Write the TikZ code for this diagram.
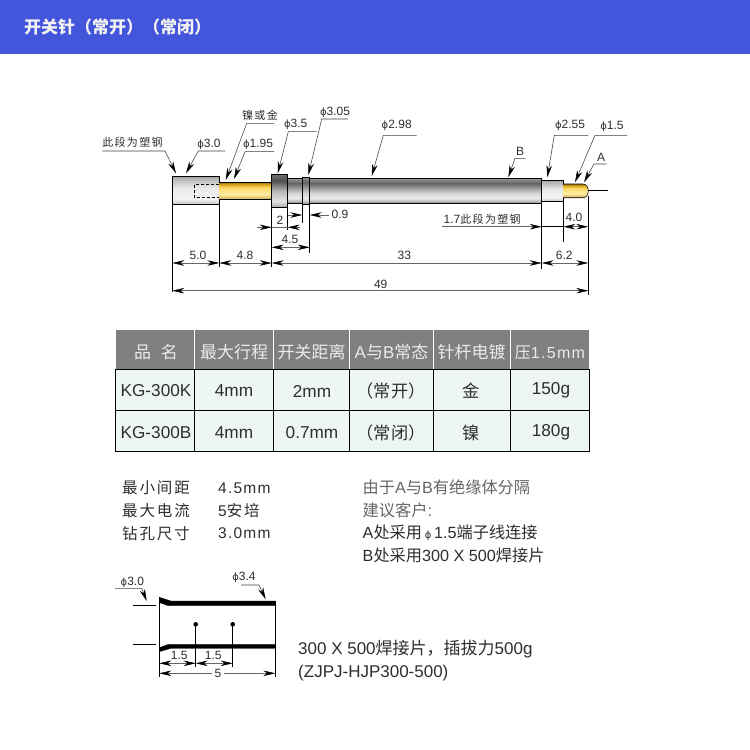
\documentclass[tikz,border=0pt]{standalone}
\usepackage{fontspec}
\setmainfont{Liberation Sans}
\newfontfamily\cjk{Noto Sans CJK SC}
\newfontfamily\cjkw[LetterSpace=12]{Noto Sans CJK SC}
\newfontfamily\latw[LetterSpace=8]{Liberation Sans}
\usetikzlibrary{arrows.meta}
\newcommand{\zh}[1]{{\cjk #1}}
\newcommand{\zw}[1]{{\cjkw #1}}
\newcommand{\fs}[1]{\fontsize{#1}{#1}\selectfont}
\newcommand{\ph}{{\fontspec{DejaVu Sans}\fontsize{10}{10}\selectfont ϕ}}
\definecolor{cA0}{HTML}{A4A4A4}\definecolor{cA1}{HTML}{C0C0C0}\definecolor{cA2}{HTML}{E8E8E8}\definecolor{cA3}{HTML}{F4F4F4}\definecolor{cA4}{HTML}{C4C4C4}
\definecolor{cB0}{HTML}{989898}\definecolor{cB1}{HTML}{626262}\definecolor{cB2}{HTML}{D8D8D8}\definecolor{cB3}{HTML}{ECECEC}\definecolor{cB4}{HTML}{909090}
\definecolor{cG0}{HTML}{9A7414}\definecolor{cG1}{HTML}{E0AA1A}\definecolor{cG2}{HTML}{FAD868}\definecolor{cG3}{HTML}{FFEEA4}\definecolor{cG4}{HTML}{CDA648}
\definecolor{cC0}{HTML}{707070}\definecolor{cC1}{HTML}{505050}\definecolor{cC2}{HTML}{B8B8B8}\definecolor{cC3}{HTML}{E4E4E4}\definecolor{cC4}{HTML}{A4A4A4}
\pgfdeclareverticalshading{steelA}{100bp}{color(0bp)=(cA4);color(25bp)=(cA4);color(35bp)=(cA3);color(55bp)=(cA2);color(67bp)=(cA1);color(75bp)=(cA0);color(100bp)=(cA0)}
\pgfdeclareverticalshading{shaftA}{100bp}{color(0bp)=(cB4);color(25bp)=(cB4);color(35bp)=(cB3);color(45bp)=(cB2);color(65bp)=(cB1);color(75bp)=(cB0);color(100bp)=(cB0)}
\pgfdeclareverticalshading{goldA}{100bp}{color(0bp)=(cG4);color(25bp)=(cG4);color(40bp)=(cG3);color(60bp)=(cG2);color(68bp)=(cG1);color(75bp)=(cG0);color(100bp)=(cG0)}
\pgfdeclareverticalshading{collarA}{100bp}{color(0bp)=(cC4);color(25bp)=(cC4);color(35bp)=(cC3);color(50bp)=(cC2);color(65bp)=(cC1);color(75bp)=(cC0);color(100bp)=(cC0)}
\definecolor{band}{HTML}{4355DB}
\definecolor{hdr}{HTML}{808080}
\definecolor{mint}{HTML}{EEF6F1}
\definecolor{ink}{HTML}{2E2E2E}
\tikzset{
 tip/.tip={Stealth[length=12pt,width=5.5pt,color=black]},
 part/.style={draw=black,line width=.7pt},
 ext/.style={draw=black,line width=.55pt},
 dim/.style={draw=black!60,line width=.5pt},
 ldr/.style={draw=black!75,line width=.55pt},
 lbl/.style={inner sep=0pt,text=ink,font=\fs{12}},
 cjlbl/.style={inner sep=0pt,text=ink,font=\fs{11}},
 thd/.style={inner sep=0pt,text=white!92!black,font=\fs{17}},
 tc/.style={inner sep=0pt,text=ink,font=\fs{17.2}},
 body/.style={inner sep=0pt,anchor=west,text=ink,font=\fs{15.5}},
 note/.style={inner sep=0pt,anchor=west,text=ink,font=\fs{16.2}},
 captxt/.style={inner sep=0pt,anchor=west,text=ink,font=\fs{17}},
 tube/.style={fill=black,draw=black,line width=.3pt},
}
\begin{document}
\begin{tikzpicture}[x=1pt,y=-1pt]
\useasboundingbox (0,0) rectangle (750,750);
\fill[white] (0,0) rectangle (750,750);
\fill[band] (0,0) rectangle (750,53.7);
\node[inner sep=0pt,anchor=west,text=white!95!black,font=\fs{17}\bfseries] (title) at (24,27) {\zh{开关针（常开）（常闭）}};

% --- pin
\path[part,shading=steelA] (172.3,176) rectangle (219.3,204.3);
\path[shading=goldA] (219.3,182.3) rectangle (271.7,199.7);
\draw[black,line width=.6pt] (219.3,182.3)--(271.7,182.3) (219.3,199.7)--(271.7,199.7);
\path[part,shading=shaftA] (287.7,178.3) rectangle (541.7,203.3);
\path[part,shading=collarA] (271.7,174.3) rectangle (287.7,207.7);
\path[part,shading=shaftA] (302.3,177) rectangle (309.7,204.3);
\path[part,shading=steelA] (541.7,180.3) rectangle (563.3,201.7);
\path[shading=goldA] (563.3,184) -- (583,184) .. controls (590,184) and (590,197.7) .. (583,197.7) -- (563.3,197.7) -- cycle;
\draw[black,line width=.6pt] (563.3,184) -- (583,184) .. controls (590,184) and (590,197.7) .. (583,197.7) -- (563.3,197.7);
\draw[black,line width=.6pt,dash pattern=on 3.5pt off 1.5pt] (219,184.3) -- (194.3,184.3) -- (194.3,197.3) -- (219,197.3);
\draw[ext] (588.3,190) -- (607.7,190);

% --- extension lines
\draw[ext] (172.3,204.3) -- (172.3,292);
\draw[ext] (219.3,204.3) -- (219.3,267);
\draw[ext] (271.7,207.7) -- (271.7,267);
\draw[ext] (287.7,207.7) -- (287.7,230);
\draw[ext] (302.3,204.3) -- (302.3,223);
\draw[ext] (309.7,204.3) -- (309.7,253);
\draw[ext] (541.7,203.3) -- (541.7,269);
\draw[ext] (563.3,201.7) -- (563.3,241.7);
\draw[ext] (588.3,196) -- (588.3,295);

% --- dimensions
\draw[dim,{tip}-{tip}] (172.3,263) -- (219.3,263);
\draw[dim,{tip}-{tip}] (219.3,263) -- (271.7,263);
\draw[dim,{tip}-{tip}] (271.7,263) -- (541.7,263);
\draw[dim,{tip}-{tip}] (541.7,263) -- (588.3,263);
\draw[dim,{tip}-{tip}] (172.3,290.7) -- (588.3,290.7);
\draw[dim,{tip}-{tip}] (271.7,247.3) -- (309.7,247.3);
\draw[dim,-{tip}] (256.7,227.3) -- (271.7,227.3);
\draw[dim] (271.7,227.3) -- (287.7,227.3);
\draw[dim,-{tip}] (300,227.3) -- (287.7,227.3);
\draw[dim,-{tip}] (287.7,215) -- (302.3,215);
\draw[dim,-{tip}] (329,215) -- (309.7,215);
\draw[dim,-{tip}] (442,226.7) -- (541.7,226.7);
\draw[ext] (541.7,226.7) -- (563.3,226.7);
\draw[dim,{tip}-{tip}] (563.3,226.7) -- (588.3,226.7);

\node[lbl] (d50) at (198,255) {5.0};
\node[lbl] (d48) at (245,255) {4.8};
\node[lbl] (d33) at (404.3,255) {33};
\node[lbl] (d62) at (564.3,255) {6.2};
\node[lbl] (d49) at (380.7,284) {49};
\node[lbl] (d45) at (290,239) {4.5};
\node[lbl] (d2) at (280,220) {2};
\node[lbl] (d09) at (340,214.5) {0.9};
\node[lbl] (d40) at (574,217) {4.0};
\node[lbl,anchor=west] (d17) at (443.5,219) {1.7\zw{\fs{11}此段为塑钢}};

% --- leaders
\draw[ldr,-{tip}] (102.3,151) -- (165,151) -- (176,173.3);
\draw[ldr,-{tip}] (225,151) -- (198.3,151) -- (186,173.3);
\draw[ldr,-{tip}] (274,123.3) -- (246.7,123.3) -- (225.7,180);
\draw[ldr,-{tip}] (274,151.7) -- (245,151.7) -- (234,179);
\draw[ldr,-{tip}] (316.7,131.7) -- (288.3,131.7) -- (277.7,173.3);
\draw[ldr,-{tip}] (348,119) -- (321.7,119) -- (308.3,175);
\draw[ldr,-{tip}] (416.7,135.3) -- (383.3,135.3) -- (371.7,176);
\draw[ldr,-{tip}] (525.7,158.3) -- (515,158.3) -- (508.3,177.3);
\draw[ldr,-{tip}] (588.3,135.3) -- (554.3,135.3) -- (547.3,177.3);
\draw[ldr,-{tip}] (627,135.3) -- (595,135.3) -- (575,182.3);
\draw[ldr,-{tip}] (606.7,164) -- (594,164) -- (584,182.3);

\node[cjlbl] (n1) at (132.5,142) {\zw{此段为塑钢}};
\node[lbl] (n2) at (209,144) {\ph 3.0};
\node[cjlbl] (n3) at (260,115) {\zw{镍或金}};
\node[lbl] (n4) at (258,144) {\ph 1.95};
\node[lbl] (n5) at (295.7,124.3) {\ph 3.5};
\node[lbl] (n6) at (335,112) {\ph 3.05};
\node[lbl] (n7) at (396.7,125.7) {\ph 2.98};
\node[lbl] (n8) at (520,151) {B};
\node[lbl] (n9) at (570,125.7) {\ph 2.55};
\node[lbl] (n10) at (612,126) {\ph 1.5};
\node[lbl] (n11) at (601,157) {A};

% --- table
\fill[hdr] (115.7,330) rectangle (589.3,369);
\fill[mint] (115.7,369) rectangle (589.3,451.3);
\draw[white,line width=.8pt] (194.3,330)--(194.3,369) (273.3,330)--(273.3,369) (349.3,330)--(349.3,369) (433.3,330)--(433.3,369) (510.7,330)--(510.7,369);
\draw[black,line width=.7pt] (115.7,369) rectangle (589.3,451.3);
\draw[black,line width=.7pt] (115.7,410)--(589.3,410);
\draw[black,line width=.7pt] (194.3,369)--(194.3,451.3) (273.3,369)--(273.3,451.3) (349.3,369)--(349.3,451.3) (433.3,369)--(433.3,451.3) (510.7,369)--(510.7,451.3);

\node[thd] (h1) at (156,352.5) {\zh{品}\hspace{10pt}\zh{名}};
\node[thd] (h2) at (234,352.5) {\zh{最大行程}};
\node[thd] (h3) at (311.5,352.5) {\zh{开关距离}};
\node[thd] (h4) at (391.5,352.5) {A\zh{与}B\zh{常态}};
\node[thd] (h5) at (471.5,352.5) {\zh{针杆电镀}};
\node[thd,font=\fs{16}] (h6) at (550,352.5) {\zh{压}{\latw 1.5mm}};

\node[tc] (a1) at (156,391) {KG-300K};
\node[tc] (a2) at (234,391) {4mm};
\node[tc] (a3) at (312,391) {2mm};
\node[tc] (a4) at (391,391) {\zh{（常开）}};
\node[tc] (a5) at (471,391) {\zh{金}};
\node[tc] (a6) at (551,390) {150g};
\node[tc] (b1) at (156,433) {KG-300B};
\node[tc] (b2) at (234,433) {4mm};
\node[tc] (b3) at (312,433) {0.7mm};
\node[tc] (b4) at (391,433) {\zh{（常闭）}};
\node[tc] (b5) at (471,433) {\zh{镍}};
\node[tc] (b6) at (551,432) {180g};

% --- notes
\node[body] (l1) at (122,488) {\zw{最小间距}};
\node[body] (l2) at (122,510.5) {\zw{最大电流}};
\node[body] (l3) at (122,533.5) {\zw{钻孔尺寸}};
\node[body] (v1) at (218,488) {{\latw 4.5mm}};
\node[body] (v2) at (218,510.5) {5\zw{安培}};
\node[body] (v3) at (218,533.5) {{\latw 3.0mm}};
\node[note,text=black!60] (r1) at (362.5,487) {\zh{由于}A\zh{与}B\zh{有绝缘体分隔}};
\node[note,text=black!60] (r2) at (362.5,510) {\zh{建议客户}:};
\node[note] (r3) at (362.5,532.5) {A\zh{处采用}\,\ph\,1.5\zh{端子线连接}};
\node[note] (r4) at (362.5,555) {B\zh{处采用}300 X 500\zh{焊接片}};

% --- lug
\fill[tube] (159.3,597.3) -- (171,601) -- (275.3,601) -- (275.3,605.7) -- (168.5,605.7) -- (159.3,602.5) -- cycle;
\fill[tube] (159.3,647.7) -- (168.5,644.3) -- (275.3,644.3) -- (275.3,648.3) -- (171,648.3) -- (159.3,651.7) -- cycle;
\draw[ext] (159.3,597.3) -- (159.3,676.7);
\draw[ext] (275.3,601) -- (275.3,676.7);
\draw[ext] (133.3,605) -- (155.7,605);
\draw[ext] (133.3,644.3) -- (155.7,644.3);
\fill[black] (195.7,624.3) circle[radius=2.3];
\fill[black] (232.7,624.3) circle[radius=2.3];
\draw[ext] (195.7,624.3) -- (195.7,666.7);
\draw[ext] (232.7,624.3) -- (232.7,666.7);
\draw[dim,{tip}-{tip}] (159.3,663.3) -- (195.7,663.3);
\draw[dim,{tip}-{tip}] (195.7,663.3) -- (232.7,663.3);
\draw[dim,{tip}-{tip}] (159.3,673.3) -- (275.3,673.3);
\node[lbl] (e1) at (179.3,655.5) {1.5};
\node[lbl] (e2) at (213.3,655.5) {1.5};
\node[lbl,fill=white,inner xsep=3pt,inner ysep=1pt] (e3) at (218,673.3) {5};
\draw[ldr,-{tip}] (115,588.3) -- (141.7,588.3) -- (146.7,601);
\draw[ldr,-{tip}] (241,585) -- (259,585) -- (265.7,599.3);
\node[lbl] (e4) at (132.3,582) {\ph 3.0};
\node[lbl] (e5) at (244,577.5) {\ph 3.4};

\node[captxt] (c1) at (298,649) {300 X 500\zh{焊接片，插拔力}500g};
\node[captxt] (c2) at (298,673) {(ZJPJ-HJP300-500)};
\end{tikzpicture}
\end{document}
